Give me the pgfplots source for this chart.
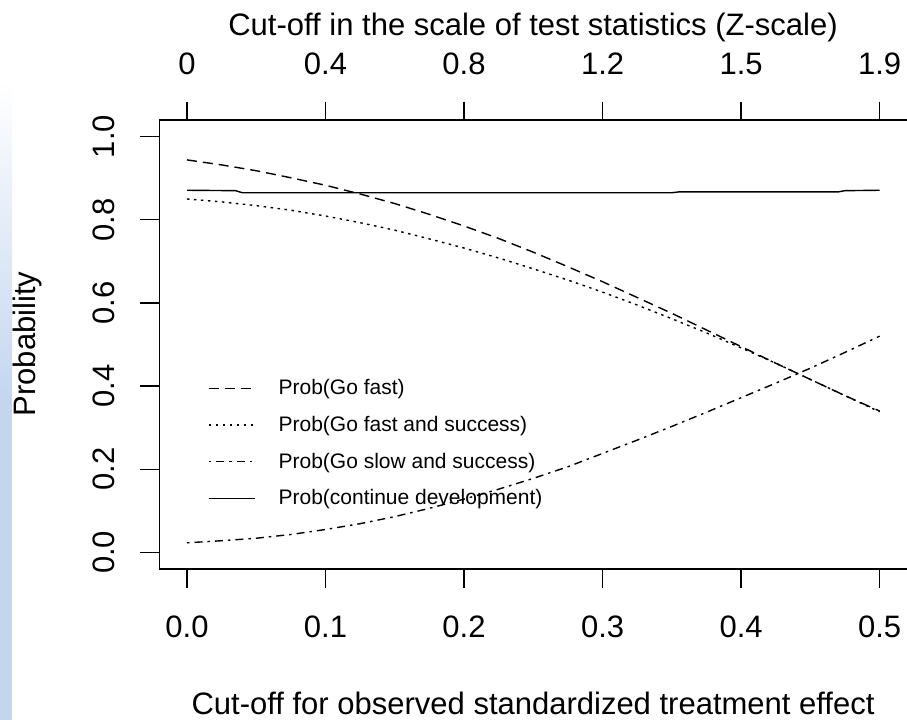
\documentclass[border=0pt]{standalone}
\usepackage{pgfplots}
\pgfplotsset{compat=1.18}
\usepackage{fontspec}
\setmainfont{Liberation Sans}
\definecolor{stripblue}{RGB}{196,214,238}
\begin{document}
\begin{tikzpicture}[x=1pt,y=1pt]
\shade[top color=white,bottom color=stripblue] (0,320) rectangle (12,640);
\fill[stripblue] (0,0) rectangle (12,320.5);
\begin{axis}[
 at={(159.3pt,151pt)}, anchor=south west,
 width=748pt, height=449pt, scale only axis,
 xmin=-0.02, xmax=0.52, ymin=-0.04, ymax=1.04,
 xtick={0,0.1,0.2,0.3,0.4,0.5},
 xticklabels={0.0,0.1,0.2,0.3,0.4,0.5},
 ytick={0,0.2,0.4,0.6,0.8,1},
 yticklabels={0.0,0.2,0.4,0.6,0.8,1.0},
 xtick pos=left, ytick pos=left,
 tick align=outside, major tick length=19pt,
 tick style={line width=1.2pt, black},
 axis line style={line width=1.2pt},
 ticklabel style={font=\fontsize{31}{31}\selectfont, inner sep=0pt},
 xticklabel style={anchor=north},
 xticklabel shift=28pt,
 yticklabel style={rotate=90, anchor=south},
 yticklabel shift=25pt,
 legend style={at={(0.0651,0.422)}, anchor=north west, draw=none, fill=none,
   inner sep=0pt, row sep=16.7pt, column sep=23pt,
   font=\fontsize{21}{21}\selectfont,
   nodes={inner sep=0pt, text height=15pt, text depth=5pt}},
 legend cell align=left,
 legend image code/.code={\draw[#1] (0pt,1.5pt) -- (46pt,1.5pt);},
]
\addplot[black, line width=1.4pt, dash pattern=on 10pt off 6pt] coordinates {
(0,0.944)(0.025,0.932)(0.05,0.918)(0.075,0.901)(0.1,0.883)(0.125,0.862)(0.15,0.839)
(0.175,0.813)(0.2,0.785)(0.225,0.755)(0.25,0.722)(0.275,0.687)(0.3,0.651)(0.325,0.613)
(0.35,0.575)(0.375,0.535)(0.4,0.495)(0.425,0.455)(0.45,0.416)(0.475,0.377)(0.5,0.340)};
\addlegendentry{Prob(Go fast)}
\addplot[black, line width=1.4pt, dash pattern=on 2.5pt off 4.5pt] coordinates {
(0,0.850)(0.025,0.843)(0.05,0.834)(0.075,0.823)(0.1,0.809)(0.125,0.793)(0.15,0.775)
(0.175,0.754)(0.2,0.732)(0.225,0.708)(0.25,0.682)(0.275,0.655)(0.3,0.626)(0.325,0.595)
(0.35,0.562)(0.375,0.528)(0.4,0.492)(0.425,0.455)(0.45,0.416)(0.475,0.377)(0.5,0.338)};
\addlegendentry{Prob(Go fast and success)}
\addplot[black, line width=1.4pt, dash pattern=on 2.5pt off 5pt on 8pt off 5pt] coordinates {
(0,0.023)(0.025,0.028)(0.05,0.034)(0.075,0.043)(0.1,0.055)(0.125,0.069)(0.15,0.086)
(0.175,0.106)(0.2,0.128)(0.225,0.152)(0.25,0.178)(0.275,0.206)(0.3,0.238)(0.325,0.270)
(0.35,0.303)(0.375,0.337)(0.4,0.372)(0.425,0.407)(0.45,0.443)(0.475,0.481)(0.5,0.520)};
\addlegendentry{Prob(Go slow and success)}
\addplot[black, line width=1.4pt] coordinates {
(0,0.871)(0.035,0.870)(0.04,0.865)(0.1,0.865)(0.2,0.865)(0.3,0.865)(0.35,0.865)
(0.355,0.867)(0.4,0.867)(0.47,0.867)(0.475,0.870)(0.5,0.871)};
\addlegendentry{Prob(continue development)}
\end{axis}
\begin{axis}[
 at={(159.3pt,151pt)}, anchor=south west,
 width=748pt, height=449pt, scale only axis,
 xmin=-0.02, xmax=0.52, ymin=-0.04, ymax=1.04,
 hide y axis, axis x line*=top,
 xtick={0,0.1,0.2,0.3,0.4,0.5},
 xticklabels={0,0.4,0.8,1.2,1.5,1.9},
 tick align=outside, major tick length=18pt,
 tick style={line width=1.2pt, black},
 axis line style={line width=1.2pt, -},
 ticklabel style={font=\fontsize{31}{31}\selectfont, inner sep=0pt},
 xticklabel style={anchor=south},
 xticklabel shift=27pt,
]
\end{axis}
\node[anchor=base, inner sep=0pt, font=\fontsize{31}{31}\selectfont] at (533,684) {Cut-off in the scale of test statistics (Z-scale)};
\node[anchor=base, inner sep=0pt, font=\fontsize{31}{31}\selectfont] at (533,6) {Cut-off for observed standardized treatment effect};
\node[anchor=base, rotate=90, inner sep=0pt, font=\fontsize{31}{31}\selectfont] at (35,376) {Probability};
\pgfresetboundingbox
\useasboundingbox (0,0) rectangle (907,720);
\end{tikzpicture}
\end{document}
